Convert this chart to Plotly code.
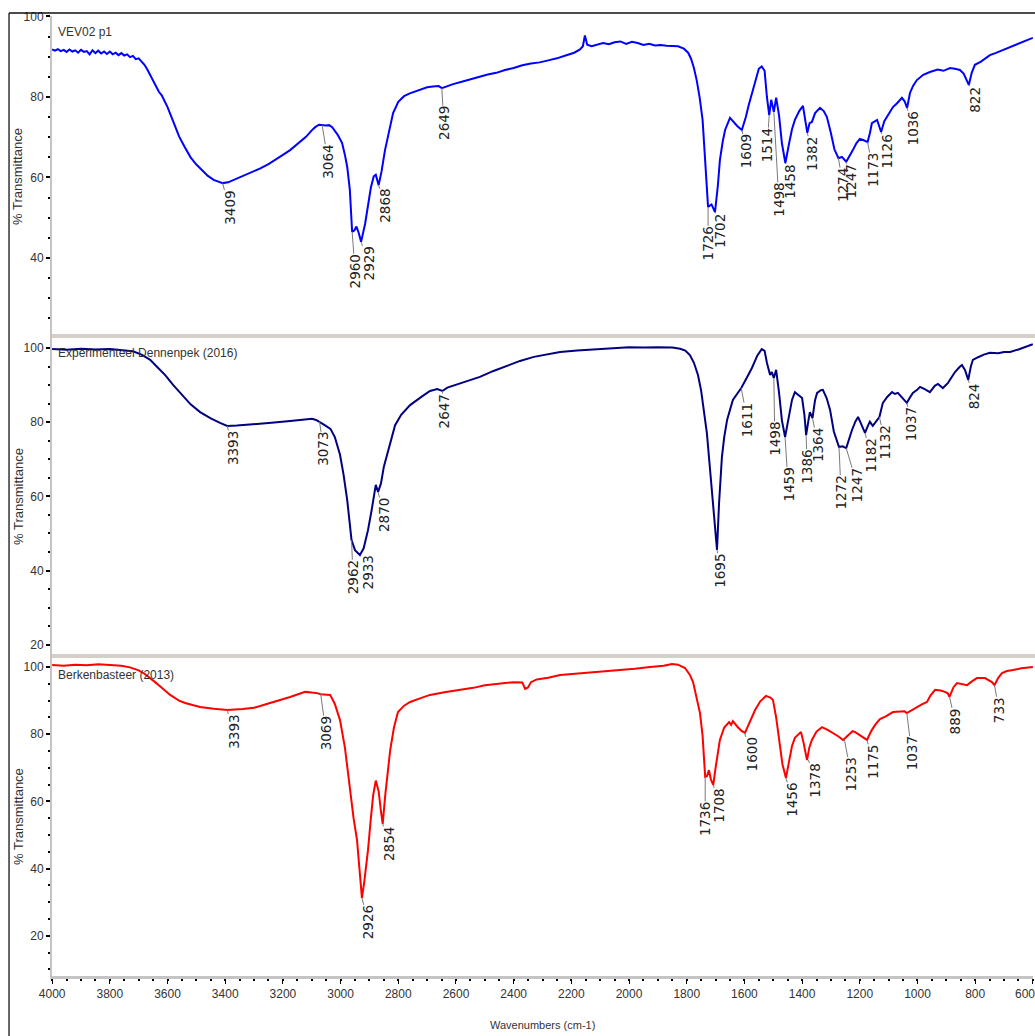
import plotly.graph_objects as go

# ---------------- DATA ----------------
# Panel 1: VEV02 p1 (wavenumber cm-1, % transmittance)
p1_wn = [4000, 3990, 3980, 3970, 3960, 3950, 3940, 3930, 3920, 3910, 3900, 3890, 3880, 3870, 3860,
         3850, 3840, 3830, 3820, 3810, 3800, 3790, 3780, 3770, 3760, 3750, 3740, 3730, 3720, 3710,
         3700, 3690, 3680, 3670, 3660, 3650, 3640, 3630, 3620, 3610, 3600, 3580, 3560, 3540, 3520,
         3500, 3480, 3460, 3440, 3420, 3409, 3390, 3370, 3350, 3320, 3300, 3280, 3250, 3220, 3200,
         3175, 3150, 3120, 3100, 3088, 3075, 3064, 3050, 3040, 3029, 3010, 2995, 2985, 2977, 2968,
         2960, 2952, 2945, 2937, 2929, 2915, 2905, 2895, 2885, 2878, 2868, 2858, 2846, 2830, 2818,
         2800, 2780, 2760, 2740, 2720, 2700, 2680, 2660, 2649, 2635, 2610, 2580, 2550, 2520, 2490,
         2460, 2430, 2400, 2370, 2340, 2310, 2280, 2250, 2220, 2190, 2170, 2160, 2153, 2145, 2130,
         2110, 2090, 2070, 2050, 2030, 2010, 1990, 1970, 1950, 1930, 1910, 1890, 1870, 1850, 1830,
         1810, 1795, 1785, 1775, 1765, 1755, 1745, 1738, 1732, 1726, 1714, 1702, 1692, 1685, 1675,
         1667, 1650, 1640, 1625, 1609, 1595, 1585, 1574, 1560, 1550, 1540, 1530, 1522, 1514, 1507,
         1498, 1490, 1480, 1470, 1458, 1445, 1435, 1425, 1410, 1397, 1390, 1382, 1374, 1366, 1355,
         1338, 1325, 1314, 1300, 1288, 1274, 1262, 1247, 1235, 1224, 1212, 1200, 1188, 1173, 1165,
         1158, 1140, 1126, 1115, 1106, 1095, 1085, 1070, 1054, 1045, 1036, 1026, 1015, 1002, 980,
         957, 930, 910, 887, 870, 853, 840, 830, 822, 812, 801, 780, 760, 749, 730,
         710, 690, 679, 660, 640, 620, 600]
p1_T = [91.8, 91.5, 91.9, 91.4, 91.7, 91.2, 91.8, 91.3, 91.6, 91.0, 91.7, 91.2, 91.4, 90.6, 91.6,
        90.9, 91.5, 90.8, 91.3, 90.7, 91.3, 90.6, 91.0, 90.4, 90.9, 90.3, 90.6, 89.9, 90.2, 89.4,
        89.6, 88.7, 88.0, 86.8, 85.4, 83.8, 82.6, 81.3, 80.4, 79.0, 77.5, 73.9, 70.2, 67.5, 65.0,
        63.2, 61.7, 60.4, 59.4, 58.8, 58.6, 58.8, 59.4, 60.0, 60.9, 61.6, 62.2, 63.3, 64.6, 65.6,
        66.8, 68.2, 70.1, 71.7, 72.5, 73.1, 73.0, 72.9, 73.0, 72.5, 70.6, 68.6, 65.6, 62.6, 57.0,
        46.5, 46.9, 47.8, 46.2, 44.0, 48.5, 53.0, 57.5, 60.3, 60.7, 58.1, 61.5, 66.8, 72.5, 76.0,
        78.8, 80.2, 80.9, 81.4, 81.8, 82.4, 82.6, 82.7, 82.2, 82.6, 83.2, 83.8, 84.4, 85.0, 85.6,
        86.0, 86.7, 87.2, 87.9, 88.3, 88.6, 89.1, 89.6, 90.3, 91.0, 91.8, 92.6, 95.3, 93.0, 92.6,
        93.0, 93.4, 93.1, 93.6, 93.8, 93.2, 93.7, 93.4, 92.9, 93.2, 92.8, 92.9, 92.7, 92.6, 92.6,
        92.0, 91.0, 89.5, 87.2, 84.0, 79.8, 74.3, 67.0, 58.5, 52.7, 53.3, 51.4, 58.0, 64.3, 69.0,
        71.8, 74.8, 74.0, 72.8, 71.8, 75.0, 78.0, 81.0, 84.5, 87.0, 87.6, 86.5, 80.0, 75.5, 79.3,
        76.3, 79.8, 75.5, 68.5, 63.6, 68.5, 72.0, 74.3, 76.5, 77.8, 75.0, 71.1, 73.5, 73.8, 76.0,
        77.3, 76.5, 75.0, 71.0, 67.0, 64.8, 65.1, 63.9, 65.3, 66.8, 68.5, 69.6, 69.3, 68.8, 71.0,
        73.5, 74.3, 71.3, 74.0, 75.0, 76.5, 77.5, 78.5, 79.8, 79.0, 77.3, 81.0, 82.8, 84.2, 85.5,
        86.2, 86.8, 86.5, 87.2, 87.0, 86.7, 85.8, 84.2, 83.0, 86.0, 88.0, 88.8, 89.9, 90.4, 90.9,
        91.5, 92.0, 92.4, 93.0, 93.6, 94.1, 94.7]

# Panel 2: Experimenteel Dennenpek (2016)
p2_wn = [4000, 3950, 3900, 3850, 3800, 3760, 3720, 3690, 3660, 3635, 3608, 3580, 3556, 3520, 3487,
         3450, 3418, 3393, 3360, 3320, 3279, 3230, 3175, 3130, 3099, 3085, 3073, 3055, 3035, 3020,
         3002, 2990, 2977, 2970, 2962, 2950, 2940, 2933, 2920, 2905, 2893, 2885, 2878, 2870, 2860,
         2850, 2839, 2825, 2811, 2790, 2759, 2720, 2690, 2665, 2647, 2630, 2603, 2560, 2517, 2470,
         2420, 2378, 2330, 2280, 2239, 2180, 2100, 2050, 2000, 1950, 1900, 1850, 1823, 1805, 1789,
         1775, 1761, 1750, 1740, 1730, 1719, 1712, 1703, 1695, 1688, 1678, 1670, 1660, 1640, 1625,
         1611, 1595, 1574, 1555, 1540, 1530, 1522, 1511, 1505, 1498, 1490, 1480, 1470, 1459, 1445,
         1435, 1425, 1410, 1400, 1392, 1386, 1378, 1373, 1364, 1355, 1348, 1335, 1328, 1315, 1303,
         1290, 1272, 1260, 1247, 1237, 1227, 1215, 1206, 1195, 1182, 1172, 1165, 1155, 1147, 1132,
         1120, 1105, 1088, 1078, 1068, 1055, 1037, 1025, 1016, 1000, 991, 975, 957, 940, 929,
         912, 900, 894, 880, 870, 855, 846, 835, 824, 815, 808, 790, 770, 749, 720,
         700, 679, 650, 620, 600]
p2_T = [99.7, 99.5, 99.8, 99.6, 99.7, 99.4, 99.1, 98.2, 96.8, 94.8, 92.7, 90.0, 87.9, 84.8, 82.7,
        81.0, 79.8, 79.0, 79.1, 79.3, 79.5, 79.9, 80.3, 80.7, 80.9, 80.6, 80.1, 79.2, 78.2, 76.0,
        71.2, 66.0, 59.0, 54.5, 48.2, 45.5, 44.8, 44.2, 46.0, 50.9, 56.0, 60.5, 63.1, 61.2, 63.5,
        68.0, 71.2, 75.5, 79.2, 82.0, 84.6, 86.8, 88.4, 88.9, 88.4, 89.3, 90.0, 91.2, 92.2, 93.8,
        95.3, 96.5, 97.6, 98.3, 98.9, 99.3, 99.7, 99.9, 100.2, 100.1, 100.2, 100.1, 99.8, 99.3, 98.1,
        96.0, 92.7, 88.5, 83.3, 77.0, 67.1, 60.9, 52.0, 45.6, 58.0, 70.6, 76.0, 80.6, 86.0, 87.8,
        89.2, 91.5, 94.6, 98.0, 99.7, 99.2, 96.0, 92.7, 93.5, 91.9, 94.1, 88.0, 80.5, 76.0, 81.5,
        86.0, 88.1, 87.2, 86.5, 82.0, 76.5, 80.5, 82.7, 81.1, 86.0, 87.9, 88.6, 88.7, 86.5, 83.3,
        77.5, 73.3, 73.5, 73.0, 75.5, 77.9, 80.2, 81.4, 79.5, 77.1, 79.0, 80.1, 79.0, 79.8, 81.4,
        85.2, 86.8, 88.1, 87.6, 87.9, 86.8, 85.2, 86.8, 87.9, 88.8, 89.5, 88.9, 88.1, 89.8, 90.3,
        89.2, 90.2, 90.6, 92.3, 93.5, 94.8, 95.4, 94.0, 91.4, 95.0, 96.8, 97.5, 98.2, 98.7, 98.6,
        98.9, 98.9, 99.6, 100.4, 101.0]

# Panel 3: Berkenbasteer (2013)
p3_wn = [4000, 3960, 3920, 3880, 3840, 3800, 3760, 3730, 3700, 3680, 3660, 3643, 3620, 3591, 3560,
         3539, 3510, 3487, 3440, 3393, 3340, 3300, 3279, 3230, 3175, 3140, 3123, 3100, 3085, 3069,
         3050, 3036, 3020, 3002, 2985, 2967, 2955, 2943, 2935, 2926, 2918, 2905, 2895, 2887, 2878,
         2868, 2860, 2854, 2845, 2835, 2828, 2815, 2801, 2780, 2759, 2720, 2690, 2640, 2586, 2540,
         2500, 2450, 2400, 2370, 2360, 2350, 2340, 2320, 2280, 2239, 2180, 2100, 2040, 1980, 1927,
         1880, 1851, 1830, 1806, 1790, 1778, 1765, 1754, 1745, 1736, 1730, 1723, 1716, 1708, 1700,
         1693, 1685, 1670, 1653, 1646, 1640, 1625, 1610, 1598, 1585, 1563, 1545, 1525, 1510, 1501,
         1490, 1477, 1468, 1456, 1445, 1435, 1425, 1412, 1404, 1395, 1383, 1375, 1366, 1350, 1331,
         1310, 1293, 1275, 1258, 1240, 1225, 1217, 1200, 1185, 1175, 1160, 1145, 1130, 1110, 1085,
         1060, 1045, 1037, 1020, 1002, 985, 967, 955, 939, 920, 905, 895, 889, 875, 863,
         845, 828, 810, 794, 766, 750, 742, 733, 720, 707, 690, 669, 640, 600]
p3_T = [100.6, 100.4, 100.7, 100.5, 100.8, 100.6, 100.4, 99.9, 99.0, 98.0, 96.7, 95.5, 93.8, 91.7, 90.0,
        89.3, 88.6, 88.1, 87.6, 87.2, 87.5, 87.9, 88.4, 89.6, 91.1, 92.1, 92.6, 92.4, 92.3, 91.9,
        91.9, 91.7, 89.0, 84.2, 76.0, 63.4, 55.0, 48.5, 40.0, 31.3, 36.0, 45.5, 55.0, 61.9, 66.2,
        63.0, 57.0, 53.3, 62.0, 70.5, 75.3, 82.0, 86.6, 88.5, 89.6, 90.8, 91.7, 92.5, 93.2, 93.8,
        94.6, 95.0, 95.5, 95.4, 93.5, 93.9, 95.5, 96.3, 96.8, 97.6, 98.0, 98.5, 99.1, 99.5, 100.0,
        100.4, 100.9, 100.7, 99.7, 97.8, 95.5, 91.0, 86.3, 79.5, 67.3, 67.5, 69.3, 66.5, 64.9, 70.0,
        74.5, 78.3, 82.0, 83.6, 82.8, 83.9, 82.3, 81.0, 80.4, 82.8, 87.2, 89.8, 91.4, 90.9, 90.2,
        85.0, 77.4, 71.0, 67.0, 72.5, 76.5, 78.9, 80.2, 80.7, 77.5, 72.3, 76.0, 78.3, 80.8, 82.1,
        81.2, 80.4, 79.4, 78.3, 79.8, 80.9, 80.7, 79.8, 78.8, 78.3, 81.0, 83.0, 84.5, 85.3, 86.6,
        86.7, 86.8, 86.3, 87.2, 88.1, 88.9, 89.6, 91.5, 93.2, 93.0, 92.6, 92.2, 91.1, 94.0, 95.2,
        95.0, 94.6, 95.8, 96.7, 96.7, 96.0, 95.5, 94.6, 96.8, 98.2, 98.8, 99.1, 99.6, 100.0]

# Peak labels (wavenumber) and transmittance at the peak
p1_peaks = [3409, 3064, 2960, 2929, 2868, 2649, 1726, 1702, 1609, 1514, 1498, 1458, 1382, 1274, 1247, 1173, 1126, 1036, 822]
p1_peak_T = [58.6, 73.0, 46.5, 44.0, 58.1, 82.2, 52.7, 51.4, 71.8, 75.5, 76.3, 63.6, 71.1, 64.8, 63.9, 68.8, 71.3, 77.3, 83.0]
p2_peaks = [3393, 3073, 2962, 2933, 2870, 2647, 1695, 1611, 1498, 1459, 1386, 1364, 1272, 1247, 1182, 1132, 1037, 824]
p2_peak_T = [79.0, 80.1, 48.2, 44.2, 61.2, 88.4, 45.6, 89.2, 91.9, 76.0, 76.5, 81.1, 73.3, 73.0, 77.1, 81.4, 85.2, 91.4]
p3_peaks = [3393, 3069, 2926, 2854, 1736, 1708, 1600, 1456, 1378, 1253, 1175, 1037, 889, 733]
p3_peak_T = [87.2, 91.9, 31.3, 53.3, 67.3, 64.9, 80.4, 67.0, 72.3, 78.3, 78.3, 86.3, 91.1, 94.6]

panel_titles = ["VEV02 p1", "Experimenteel Dennenpek (2016)", "Berkenbasteer (2013)"]
x_ticks = list(range(4000, 599, -200))
x_ticktext = [str(v) for v in x_ticks[:-1]] + [""]   # last label (600) drawn separately at the edge
y_ticks = [20, 40, 60, 80, 100]

# ---------------- LAYOUT HELPERS (label offsets in pixels) ----------------
p1_dx = [6.5, 6, 3, 8, 6, 2, 0, 5, 5, -2, 5, 5, 5, 4.5, 5, 5.4, 6, 6, 6]
p1_dy = [24.5, 36.5, 39.5, 21.5, 21, 35, 36.5, 19, 21.5, 30, 88, 18.5, 21, 27, 19.5, 28, 19.5, 20.5, 15]
p2_dx = [6, 4, 1.5, 8, 6, 2, 3, 6, 1, 3, 1, 5.5, 2, 11, 6, 5.6, 5, 5.7]
p2_dy = [22, 27.5, 37, 17.5, 23, 20, 21, 32, 61, 47.5, 31.5, 27, 45.5, 37, 22.5, 25.5, 21.5, 16.5]
p3_dx = [6, 5.4, 6, 6.4, 0, 6, 7.6, 6, 6.6, 6.5, 6, 5, 5.5, 4.5]
p3_dy = [21.5, 39, 24.5, 20, 42, 20.5, 21.5, 22, 20.5, 34.5, 22, 40.5, 24.5, 25]

colors = ["#0000ff", "#000080", "#ff0000"]
domains = [[0.6667, 1.0], [0.3333, 0.6667], [0.0, 0.3333]]
yranges = [[20.62, 100.12], [16.98, 103.23], [8.04, 103.27]]

NARROW = "Liberation Sans Narrow, Arial Narrow, Liberation Sans, Arial"
LABEL_FONT = dict(family="DejaVu Sans, Liberation Sans", size=13.5, color="#222222")

fig = go.Figure()
series = [(p1_wn, p1_T), (p2_wn, p2_T), (p3_wn, p3_T)]
for i, (wn, T) in enumerate(series):
    fig.add_trace(go.Scatter(
        x=wn, y=T, mode="lines",
        line=dict(color=colors[i], width=2),
        xaxis="x" if i == 0 else f"x{i+1}",
        yaxis="y" if i == 0 else f"y{i+1}",
        showlegend=False, hoverinfo="skip"))

layout = dict(
    width=1035, height=1036,
    margin=dict(l=52, r=2, t=16, b=60, autoexpand=False),
    paper_bgcolor="white", plot_bgcolor="white",
    showlegend=False,
)

for i in range(3):
    sx = "" if i == 0 else str(i + 1)
    bottom = (i == 2)
    layout["xaxis" + sx] = dict(
        domain=[0, 1], range=[4000.5, 599.5], anchor="y" + sx,
        showgrid=False, zeroline=False, automargin=False,
        showline=bottom, linecolor="#c4c4c4", linewidth=3,
        ticks="outside" if bottom else "", ticklen=5, tickwidth=1, tickcolor="#000",
        tickvals=x_ticks if bottom else [], ticktext=x_ticktext if bottom else [],
        showticklabels=bottom, ticklabeloverflow="allow",
        tickfont=dict(family=NARROW, size=12, color="#333"),
        minor=dict(dtick=50, ticks="outside" if bottom else "", ticklen=2, tickwidth=2, tickcolor="#000", showgrid=False),
    )
    layout["yaxis" + sx] = dict(
        domain=domains[i], range=yranges[i], anchor="x" + sx,
        showgrid=False, zeroline=False, automargin=False,
        showline=True, linecolor="#c4c4c4", linewidth=2,
        ticks="outside", ticklen=4, tickwidth=2, tickcolor="#000",
        tickvals=y_ticks,
        tickfont=dict(family=NARROW, size=12, color="#333"),
        minor=dict(dtick=5, ticks="outside", ticklen=2, tickwidth=2, tickcolor="#000", showgrid=False),
    )
fig.update_layout(**layout)

annotations = []
peak_sets = [(p1_peaks, p1_peak_T, p1_dx, p1_dy), (p2_peaks, p2_peak_T, p2_dx, p2_dy), (p3_peaks, p3_peak_T, p3_dx, p3_dy)]
for i, (pk, pt, dxs, dys) in enumerate(peak_sets):
    sx = "" if i == 0 else str(i + 1)
    for w, t, dx, dy in zip(pk, pt, dxs, dys):
        annotations.append(dict(
            x=w, y=t, xref="x" + sx, yref="y" + sx,
            text=str(w), textangle=-90, font=LABEL_FONT,
            showarrow=True, arrowhead=0, arrowwidth=1, arrowcolor="#7a7a7a",
            ax=dx, ay=dy, standoff=0, startstandoff=0, borderpad=0,
        ))

# panel titles
title_y = [0.983, 0.649, 0.3135]
for i in range(3):
    annotations.append(dict(
        x=0.004, y=title_y[i], xref="paper", yref="paper",
        text=panel_titles[i], showarrow=False, xanchor="left", yanchor="middle",
        font=dict(family=NARROW, size=12, color="#333")))
    # y axis titles
    annotations.append(dict(
        x=-0.0347, y=(domains[i][0] + domains[i][1]) / 2, xref="paper", yref="paper",
        text="% Transmittance", textangle=-90, showarrow=False,
        xanchor="center", yanchor="middle",
        font=dict(family="Liberation Sans, Arial", size=13, color="#333")))

# last x tick label, kept inside the page edge
annotations.append(dict(
    x=x_ticks[-1], y=0, xref="x3", yref="paper", text=str(x_ticks[-1]),
    showarrow=False, xanchor="right", yanchor="top", yshift=-10, xshift=3, borderpad=0,
    font=dict(family=NARROW, size=12, color="#333")))

annotations.append(dict(
    x=0.5, y=-0.051, xref="paper", yref="paper", text="Wavenumbers (cm-1)",
    showarrow=False, xanchor="center", yanchor="middle",
    font=dict(family=NARROW, size=11, color="#333")))

fig.update_layout(annotations=annotations)

shapes = [
    # outer frame (left and top)
    dict(type="line", xref="paper", yref="paper", x0=-0.0438, x1=-0.0438, y0=1.003, y1=-0.07,
         line=dict(color="#333", width=1.5)),
    dict(type="line", xref="paper", yref="paper", x0=-0.0438, x1=1.01, y0=1.003, y1=1.003,
         line=dict(color="#111", width=1.5)),
    # separators between panels
    dict(type="line", xref="paper", yref="paper", x0=0, x1=1.01, y0=0.6667, y1=0.6667,
         line=dict(color="#d4d0c8", width=4)),
    dict(type="line", xref="paper", yref="paper", x0=0, x1=1.01, y0=0.3333, y1=0.3333,
         line=dict(color="#d4d0c8", width=4)),
]
fig.update_layout(shapes=shapes)

fig.write_html("out.html", config={"displayModeBar": False},
               post_script="document.body.style.margin='0';document.body.style.overflow='hidden';")
